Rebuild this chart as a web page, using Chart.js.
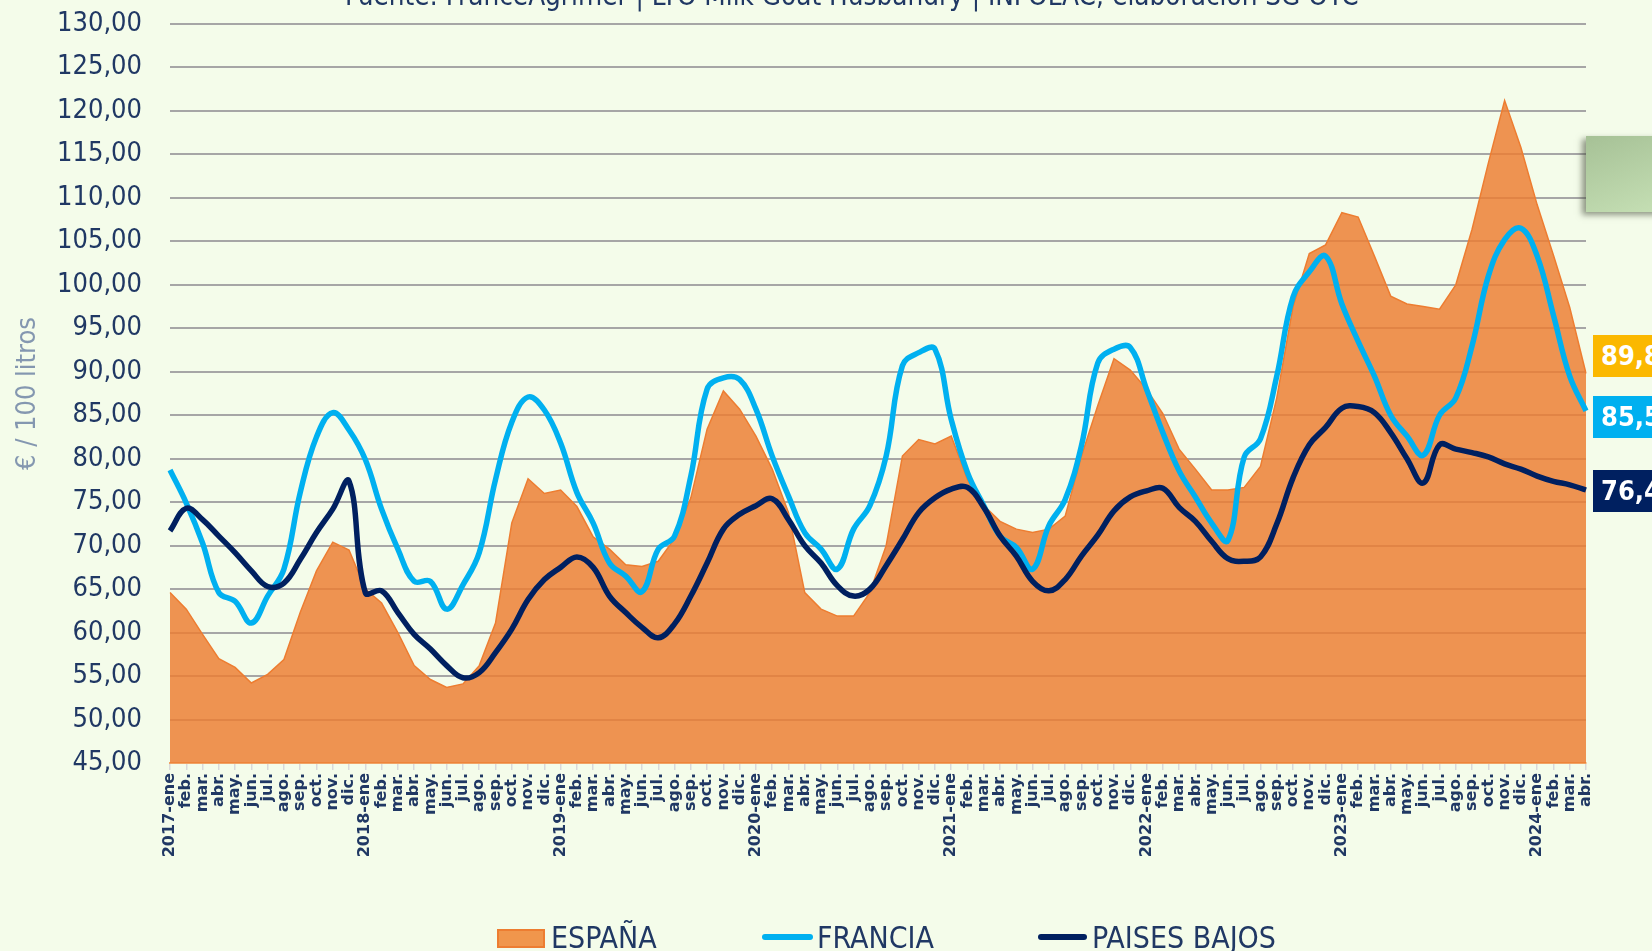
<!DOCTYPE html>
<html lang="es">
<head>
<meta charset="utf-8">
<title>Precio leche de cabra</title>
<script src="https://cdn.jsdelivr.net/npm/chart.js@4.4.1/dist/chart.umd.min.js"></script>
<style>
  html, body { margin: 0; padding: 0; background: #f4fcea; overflow: hidden; }
  #wrap { position: relative; width: 1652px; height: 951px; }
  #chart { position: absolute; left: 0; top: 0; }
  .narrow { font-family: "Liberation Sans Narrow", "Arial Narrow", "DejaVu Sans Condensed", "Liberation Sans", sans-serif; }
  .source { position: absolute; left: 345px; top: -18px; font-size: 27.6px; line-height: 28px; color: #203864; white-space: nowrap; }
  .green-box { position: absolute; left: 1586px; top: 136px; width: 80px; height: 76px;
    background: linear-gradient(160deg, #a6c196 0%, #c6e0b5 100%);
    box-shadow: -4px 3px 6px rgba(60, 70, 50, 0.55); }
  .tag { position: absolute; left: 1593px; width: 70px; height: 42px; line-height: 42px;
    padding-left: 8px; color: #fff; font-weight: bold; font-size: 27px; box-sizing: border-box; }
  .leg-text { position: absolute; top: 923px; font-size: 30px; line-height: 30px; color: #203864; white-space: nowrap; }
  .leg-box { position: absolute; left: 497px; top: 929px; width: 48px; height: 19px; box-sizing: border-box;
    background: #f0964c; border: 2px solid #ed7d31; }
  .leg-line { position: absolute; top: 934px; height: 6px; border-radius: 3px; }
</style>
</head>
<body>
<div id="wrap">
  <canvas id="chart" width="1652" height="951"></canvas>

  <div class="source narrow">Fuente: FranceAgrimer | LTO Milk Goat Husbandry | INFOLAC; elaboración SG OTC</div>

  <div class="green-box"></div>
  <div class="tag narrow" style="top:335px;background:#fbb800">89,8</div>
  <div class="tag narrow" style="top:396px;background:#00b0f0">85,5</div>
  <div class="tag narrow" style="top:470px;background:#002060">76,4</div>

  <div class="leg-box"></div>
  <div class="leg-text narrow" style="left:551px">ESPAÑA</div>
  <div class="leg-line" style="left:762px;width:51px;background:#00b0f0"></div>
  <div class="leg-text narrow" style="left:817px">FRANCIA</div>
  <div class="leg-line" style="left:1038px;width:49px;background:#002060"></div>
  <div class="leg-text narrow" style="left:1092px">PAISES BAJOS</div>
</div>

<script>
// months / years on the axis
const years = [2017, 2018, 2019, 2020, 2021, 2022, 2023, 2024];
const months = ["ene", "feb.", "mar.", "abr.", "may.", "jun.", "jul.", "ago.", "sep.", "oct.", "nov.", "dic."];
const lastYearMonths = 4; // 2024 ends in abr.

// €/100 litros
const espana = [
  64.6, 62.7, 59.8, 57.0, 56.0, 54.2, 55.2, 56.9, 62.3, 67.1, 70.4, 69.5,
  65.0, 63.4, 60.0, 56.2, 54.6, 53.7, 54.1, 56.2, 61.1, 72.6, 77.7, 76.0,
  76.4, 74.5, 71.0, 69.6, 67.8, 67.6, 68.2, 70.8, 75.5, 83.4, 87.8, 85.7,
  82.6, 78.8, 73.8, 64.6, 62.7, 61.9, 61.9, 64.6, 70.0, 80.3, 82.2, 81.7,
  82.6, 77.6, 74.6, 72.8, 71.9, 71.5, 71.9, 73.4, 80.3, 86.1, 91.5, 90.2,
  88.0, 85.2, 81.1, 78.8, 76.4, 76.4, 76.7, 79.1, 87.0, 97.5, 103.6, 104.6,
  108.3, 107.8, 103.3, 98.7, 97.8, 97.5, 97.2, 100.0, 106.4, 114.0, 121.2, 115.8,
  109.2, 103.4, 97.4, 89.8
];
const francia = [
  78.7, 74.9, 70.3, 64.6, 63.6, 61.1, 64.2, 67.3, 76.1, 82.5, 85.3, 83.3,
  79.9, 74.2, 69.6, 65.9, 65.9, 62.7, 65.5, 69.2, 77.6, 84.2, 87.1, 85.6,
  81.8, 76.1, 72.6, 68.0, 66.5, 64.7, 69.6, 71.1, 78.0, 88.0, 89.3, 89.1,
  85.7, 80.3, 75.7, 71.5, 69.6, 67.3, 71.9, 74.6, 80.3, 90.7, 92.2, 92.6,
  84.5, 78.4, 74.6, 71.1, 69.8, 67.3, 72.3, 75.3, 81.5, 91.0, 92.6, 92.8,
  88.0, 83.0, 78.6, 75.6, 72.6, 70.6, 80.2, 82.3, 89.5, 98.6, 101.5, 103.3,
  97.8, 93.5, 89.5, 85.0, 82.6, 80.4, 85.0, 87.0, 93.0, 101.0, 105.2, 106.5,
  103.3, 96.5, 89.5, 85.5
];
const paisesBajos = [
  71.7, 74.3, 73.0, 71.1, 69.2, 67.1, 65.3, 65.7, 68.4, 71.5, 74.2, 77.4,
  64.6, 64.8, 62.3, 59.8, 58.1, 56.2, 54.8, 55.4, 57.7, 60.4, 63.8, 66.1,
  67.5, 68.7, 67.5, 64.2, 62.3, 60.6, 59.4, 61.0, 64.2, 68.0, 71.9, 73.6,
  74.6, 75.4, 73.0, 70.0, 68.0, 65.4, 64.2, 65.0, 67.7, 70.7, 73.8, 75.5,
  76.5, 76.7, 74.4, 71.1, 68.8, 65.9, 64.8, 66.1, 68.8, 71.2, 74.0, 75.6,
  76.3, 76.6, 74.4, 72.8, 70.5, 68.5, 68.2, 68.7, 72.5, 77.8, 81.6, 83.6,
  85.8, 86.0, 85.3, 83.0, 80.0, 77.2, 81.6, 81.1, 80.7, 80.2, 79.4, 78.8,
  78.0, 77.4, 77.0, 76.4
];

const yMin = 45;
const yMax = 130;
const yStep = 5;

const NARROW = '"Liberation Sans Narrow", "Arial Narrow", "DejaVu Sans Condensed", "Liberation Sans", sans-serif';
const NAVY = "#203864";

// labels: "2017-ene", "feb.", ... "2024-ene", ..., "abr."
const labels = [];
years.forEach((y, yi) => {
  const n = yi === years.length - 1 ? lastYearMonths : 12;
  for (let m = 0; m < n; m++) {
    labels.push(m === 0 ? y + "-" + months[0] : months[m]);
  }
});

const ctx = document.getElementById("chart").getContext("2d");

new Chart(ctx, {
  type: "line",
  data: {
    labels: labels,
    datasets: [
      {
        label: "ESPAÑA",
        data: espana,
        fill: "start",
        backgroundColor: "rgba(237,125,49,0.83)",
        borderColor: "#ed7d31",
        borderWidth: 1.5,
        tension: 0,
        pointRadius: 0,
        order: 3,
      },
      {
        label: "FRANCIA",
        data: francia,
        fill: false,
        borderColor: "#00b0f0",
        borderWidth: 5.5,
        tension: 0.4,
        pointRadius: 0,
        order: 2,
      },
      {
        label: "PAISES BAJOS",
        data: paisesBajos,
        fill: false,
        borderColor: "#002060",
        borderWidth: 5.5,
        tension: 0.4,
        pointRadius: 0,
        order: 1,
      },
    ],
  },
  options: {
    responsive: false,
    devicePixelRatio: 1,
    animation: false,
    layout: { padding: { left: 12, right: 66, top: 24, bottom: 0 } },
    plugins: {
      legend: { display: false },
      tooltip: { enabled: false },
    },
    scales: {
      x: {
        grid: {
          drawOnChartArea: false,
          drawTicks: true,
          tickLength: 7,
          color: "#d9d9d9",
          lineWidth: 1.5,
        },
        border: { display: true, color: "#f0a466", width: 2 },
        ticks: {
          autoSkip: false,
          maxRotation: 90,
          minRotation: 90,
          padding: 3,
          color: NAVY,
          font: { family: '"DejaVu Sans", sans-serif', size: 16, weight: "bold" },
        },
        afterFit: (scale) => {
          scale.height = 188;
          scale.paddingTop = 0;
          scale.paddingBottom = 0;
        },
      },
      y: {
        min: yMin,
        max: yMax,
        grid: { color: "#a6a6a6", lineWidth: 2, drawTicks: false },
        border: { display: false },
        ticks: {
          stepSize: yStep,
          padding: 28,
          color: NAVY,
          font: { family: NARROW, size: 27 },
          callback: (v) => v.toFixed(2).replace(".", ","),
        },
        title: {
          display: true,
          text: "€ / 100 litros",
          color: "#8497b0",
          padding: { top: 0, bottom: 0 },
          font: { family: NARROW, size: 27 },
        },
        afterFit: (scale) => {
          scale.width = 158;
          scale.paddingTop = 0;
          scale.paddingBottom = 0;
        },
      },
    },
  },
});
</script>
</body>
</html>
